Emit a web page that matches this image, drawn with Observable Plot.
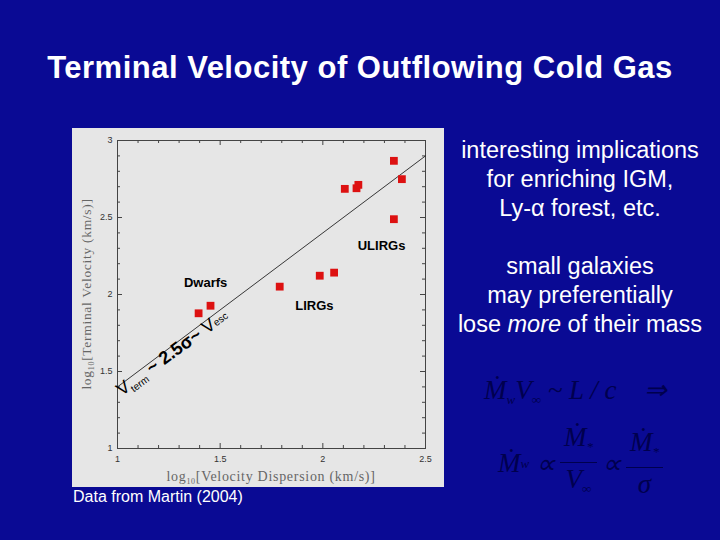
<!DOCTYPE html>
<html><head><meta charset="utf-8">
<script src="https://cdn.jsdelivr.net/npm/d3@7"></script>
<script src="https://cdn.jsdelivr.net/npm/@observablehq/plot@0.6"></script>
<style>
body{margin:0;background:#0a0a94;width:720px;height:540px;overflow:hidden;position:relative;font-family:"Liberation Sans",Arial,sans-serif;color:#fff}
#title{position:absolute;left:0;width:720px;top:50px;line-height:36px;text-align:center;font-size:31px;letter-spacing:0.5px;font-weight:bold}
#chart{position:absolute;left:72px;top:128px;width:372px;height:359px;background:#e6e6e6}
#chart svg{display:block}
.blk{position:absolute;left:440px;width:280px;text-align:center;font-size:23.5px;line-height:29px}
#src{position:absolute;left:73px;top:487px;font-size:16px;line-height:20px}
.eq{position:absolute;color:#00004e;font-family:"Liberation Serif","Times New Roman",serif;font-style:italic;font-size:27px;white-space:nowrap}
.eq sub{font-size:13px;vertical-align:-5px}
.frac{display:inline-flex;flex-direction:column;align-items:center;vertical-align:middle;margin:0 5px}
.frac .n{border-bottom:1.5px solid #00004e;padding:0 4px;line-height:30px}
.frac .d{line-height:32px}
</style></head><body>
<div id="title">Terminal Velocity of Outflowing Cold Gas</div>
<div id="chart"></div>
<div class="blk" style="top:136px">interesting implications<br>for enriching IGM,<br>Ly-α forest, etc.</div>
<div class="blk" style="top:252px">small galaxies<br>may preferentially<br>lose <i>more</i> of their mass</div>
<div id="src">Data from Martin (2004)</div>
<div class="eq" style="left:484px;top:374px">M&#x307;<sub>w</sub>V<sub>∞</sub> ~ L / c &nbsp;&nbsp;&nbsp;⇒</div>
<div class="eq" style="left:498px;top:422px;display:flex;align-items:center">M&#x307;<sub>w</sub>&nbsp;∝<span class="frac"><span class="n">M&#x307;<sub>*</sub></span><span class="d">V<sub>∞</sub></span></span>∝<span class="frac"><span class="n">M&#x307;<sub>*</sub></span><span class="d">σ</span></span></div>
<script>
// data (log10 km/s)
const sigmaLog = [1.395, 1.453, 1.790, 1.985, 2.055, 2.107, 2.164, 2.173, 2.346, 2.385, 2.346];
const vtermLog = [1.878, 1.927, 2.051, 2.122, 2.142, 2.686, 2.690, 2.712, 2.868, 2.749, 2.489];
const fitX = [1, 2.5];
const fitY = [1.4, 2.9];
const xMajor = [1, 1.5, 2, 2.5];
const xMinor = [1.1, 1.2, 1.3, 1.4, 1.6, 1.7, 1.8, 1.9, 2.1, 2.2, 2.3, 2.4];
const yMajor = [1, 1.5, 2, 2.5, 3];
const yMinor = [1.1, 1.2, 1.3, 1.4, 1.6, 1.7, 1.8, 1.9, 2.1, 2.2, 2.3, 2.4, 2.6, 2.7, 2.8, 2.9];
const groupNames = ["Dwarfs", "LIRGs", "ULIRGs"];
const groupX = [1.429, 1.959, 2.286];
const groupY = [2.078, 1.929, 2.318];

const points = sigmaLog.map((x, i) => ({x, y: vtermLog[i]}));
const fit = fitX.map((x, i) => ({x, y: fitY[i]}));
const groups = groupNames.map((name, i) => ({name, x: groupX[i], y: groupY[i]}));

const W = 372, H = 359, mL = 45, mR = 19, mT = 12, mB = 39;
const iW = W - mL - mR, iH = H - mT - mB;
const tickColor = "#444";

const plot = Plot.plot({
  width: W, height: H,
  marginLeft: mL, marginRight: mR, marginTop: mT, marginBottom: mB,
  style: {background: "transparent", fontFamily: "Liberation Sans, Arial, sans-serif"},
  x: {domain: [1, 2.5]},
  y: {domain: [1, 3]},
  marks: [
    Plot.frame({stroke: "#444", strokeWidth: 1}),
    // inward ticks on all four sides
    Plot.tickX(xMajor, {x: d => d, insetTop: iH - 5, stroke: tickColor}),
    Plot.tickX(xMinor, {x: d => d, insetTop: iH - 3, stroke: tickColor}),
    Plot.tickX(xMajor, {x: d => d, insetBottom: iH - 5, stroke: tickColor}),
    Plot.tickX(xMinor, {x: d => d, insetBottom: iH - 3, stroke: tickColor}),
    Plot.tickY(yMajor, {y: d => d, insetRight: iW - 5, stroke: tickColor}),
    Plot.tickY(yMinor, {y: d => d, insetRight: iW - 3, stroke: tickColor}),
    Plot.tickY(yMajor, {y: d => d, insetLeft: iW - 5, stroke: tickColor}),
    Plot.tickY(yMinor, {y: d => d, insetLeft: iW - 3, stroke: tickColor}),
    Plot.axisX(xMajor, {tickSize: 0, tickPadding: 7, fontSize: 9, fill: "#333", label: null, tickFormat: d => String(d)}),
    Plot.axisY(yMajor, {tickSize: 0, tickPadding: 5, fontSize: 9, fill: "#333", label: null, tickFormat: d => String(d)}),
    Plot.line(fit, {x: "x", y: "y", stroke: "#222", strokeWidth: 0.9}),
    Plot.dot(points, {x: "x", y: "y", symbol: "square", r: 4.4, fill: "#dd1111"}),
    Plot.text(groups, {x: "x", y: "y", text: "name", fontSize: 13, fontWeight: "bold", fill: "#000"})
  ]
});
document.getElementById("chart").appendChild(plot);

const svg = d3.select(plot);
const sx = plot.scale("x"), sy = plot.scale("y");
// axis labels
const xl = svg.append("text")
  .attr("x", (sx.apply(1) + sx.apply(2.5)) / 2).attr("y", H - 6)
  .attr("text-anchor", "middle")
  .attr("font-family", "Liberation Serif, Times New Roman, serif")
  .attr("font-size", 14).attr("letter-spacing", 0.7).attr("fill", "#666");
xl.append("tspan").text("log");
xl.append("tspan").text("10").attr("font-size", 8).attr("dy", 3);
xl.append("tspan").text("[Velocity Dispersion (km/s)]").attr("dy", -3);

const yl = svg.append("text")
  .attr("transform", `translate(19,${(sy.apply(1) + sy.apply(3)) / 2}) rotate(-90)`)
  .attr("text-anchor", "middle")
  .attr("font-family", "Liberation Serif, Times New Roman, serif")
  .attr("font-size", 13.5).attr("letter-spacing", 0.7).attr("fill", "#666");
yl.append("tspan").text("log");
yl.append("tspan").text("10").attr("font-size", 8).attr("dy", 3);
yl.append("tspan").text("[Terminal Velocity (km/s)]").attr("dy", -3);

// fit annotation along the line
const ann = svg.append("text")
  .attr("transform", `translate(${sx.apply(1.285)},${sy.apply(1.59)}) rotate(-36)`)
  .attr("text-anchor", "middle")
  .attr("font-family", "Liberation Sans, Arial, sans-serif")
  .attr("fill", "#000");
ann.append("tspan").text("V").attr("font-size", 18);
ann.append("tspan").text("term").attr("font-size", 10).attr("dy", 4);
ann.append("tspan").text(" ~ 2.5σ~ ").attr("font-size", 18).attr("font-weight", "bold").attr("dy", -4);
ann.append("tspan").text("V").attr("font-size", 18);
ann.append("tspan").text("esc").attr("font-size", 10).attr("dy", -1);
</script>
</body></html>
